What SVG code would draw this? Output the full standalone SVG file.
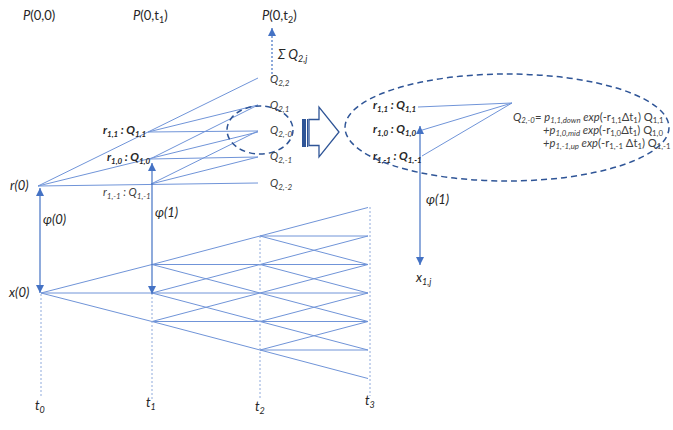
<svg xmlns="http://www.w3.org/2000/svg" width="673" height="430" viewBox="0 0 673 430">
<defs>
<style>
text{font-family:Lato,"Liberation Sans",sans-serif;fill:#262626}
.i{font-style:italic}
.b{font-weight:bold;font-style:italic;font-size:11.5px}
.q{font-size:11px;font-style:italic;fill:#404040}
.lbl{font-size:13px}
.f{font-size:11.2px;fill:#404040}
.s9{font-size:9px}
.s8{font-size:8px}
.s7{font-size:7.8px}
.tree{stroke:#7094D8;stroke-width:1;fill:none}
.dot{stroke:#8FAADC;stroke-width:1;stroke-dasharray:2 2;fill:none}
.arr{stroke:#4472C4;stroke-width:1.2;fill:none}
.ell{stroke:#2F5597;stroke-width:1.5;stroke-dasharray:6 4;fill:none}
</style>
<marker id="ah" viewBox="0 0 8 8" refX="8" refY="4" markerWidth="8" markerHeight="8" markerUnits="userSpaceOnUse" orient="auto-start-reverse">
<path d="M0,0 L8,4 L0,8 z" fill="#4472C4"/>
</marker>
</defs>
<rect width="673" height="430" fill="#ffffff"/>

<g id="connectors">
<path class="tree" d="M38,186 L258,78 M38,186 L258,132 M38,186 L258,183 M148,132 L258,105 M148,132 L258,131 M150,159 L258,105 M150,159 L258,157 M151,184 L258,131 M151,184 L258,157"/>
<path class="tree" d="M41,293 L152,264.5 M41,293 L152,293 M41,293 L152,321.5
M152,264.5 L260,236 M152,264.5 L260,264.5 M152,264.5 L260,293
M152,293 L260,264.5 M152,293 L260,293 M152,293 L260,321.5
M152,321.5 L260,293 M152,321.5 L260,321.5 M152,321.5 L260,350
M260,236 L368,207.5 M260,236 L368,236 M260,236 L368,264.5
M260,264.5 L368,236 M260,264.5 L368,264.5 M260,264.5 L368,293
M260,293 L368,264.5 M260,293 L368,293 M260,293 L368,321.5
M260,321.5 L368,293 M260,321.5 L368,321.5 M260,321.5 L368,350
M260,350 L368,321.5 M260,350 L368,350 M260,350 L368,378.5"/>
<path class="dot" d="M41,294 L41,397 M152,293 L152,400 M260,236 L260,400 M370,207 L370,396"/>
<path class="tree" d="M418,107 L512,103 M419,131 L512,103 M422,156 L512,103"/>
<path class="arr" d="M40,188 L40,293" marker-start="url(#ah)" marker-end="url(#ah)"/>
<path class="arr" d="M152,163 L152,294" marker-start="url(#ah)" marker-end="url(#ah)"/>
<path class="arr" d="M420,126 L420,265" marker-start="url(#ah)" marker-end="url(#ah)"/>
<path class="arr" d="M272,78 L272,28" stroke-dasharray="2 2" marker-end="url(#ah)"/>
</g>

<g id="ellipse-small"><ellipse class="ell" cx="260" cy="130" rx="33" ry="24"/></g>
<g id="ellipse-big"><ellipse class="ell" cx="507" cy="127.5" rx="162" ry="53.5"/></g>

<g id="block-arrow">
<rect x="302" y="119" width="4" height="28" fill="#2F5597"/>
<rect x="307" y="119" width="1.2" height="28" fill="#2F5597"/>
<path d="M309,119.5 L319,119.5 L319,107 L339,132 L319,157 L319,145.5 L309,145.5 Z" fill="#ffffff" stroke="#2F5597" stroke-width="1.3"/>
</g>

<g id="p00"><text class="lbl" x="23" y="20"><tspan class="i">P</tspan>(0,0)</text></g>
<g id="p0t1"><text class="lbl" x="133" y="20"><tspan class="i">P</tspan>(0,t<tspan class="s9" dy="3">1</tspan><tspan dy="-3">)</tspan></text></g>
<g id="p0t2"><text class="lbl" x="262" y="20"><tspan class="i">P</tspan>(0,t<tspan class="s9" dy="3">2</tspan><tspan dy="-3">)</tspan></text></g>
<g id="sumq"><text class="lbl i" x="278" y="59">Σ Q<tspan class="s9" dy="3">2,j</tspan></text></g>

<g id="q22"><text class="q" x="270" y="83">Q<tspan class="s8" dy="3">2,2</tspan></text></g>
<g id="q21"><text class="q" x="270" y="109">Q<tspan class="s8" dy="3">2,1</tspan></text></g>
<g id="q20"><text class="q" x="270" y="134">Q<tspan class="s8" dy="3">2,-0</tspan></text></g>
<g id="q2m1"><text class="q" x="270" y="160">Q<tspan class="s8" dy="3">2,-1</tspan></text></g>
<g id="q2m2"><text class="q" x="270" y="187">Q<tspan class="s8" dy="3">2,-2</tspan></text></g>

<g id="r11"><text class="b" x="103" y="134">r<tspan class="s8" dy="3">1,1</tspan><tspan dy="-3"> : Q</tspan><tspan class="s8" dy="3">1,1</tspan></text></g>
<g id="r10"><text class="b" x="107" y="161">r<tspan class="s8" dy="3">1,0</tspan><tspan dy="-3"> : Q</tspan><tspan class="s8" dy="3">1,0</tspan></text></g>
<g id="r1m1"><text class="q" x="103" y="196">r<tspan class="s8" dy="3">1,-1</tspan><tspan dy="-3"> : Q</tspan><tspan class="s8" dy="3">1,-1</tspan></text></g>
<g id="r0"><text class="lbl i" x="10" y="190">r(0)</text></g>
<g id="x0"><text class="lbl i" x="9" y="297">x(0)</text></g>
<g id="phi0"><text class="lbl i" x="43" y="224">φ(0)</text></g>
<g id="phi1"><text class="lbl i" x="155" y="217">φ(1)</text></g>

<g id="t0"><text class="lbl i" x="35" y="410">t<tspan class="s9" dy="3">0</tspan></text></g>
<g id="t1"><text class="lbl i" x="146" y="407">t<tspan class="s9" dy="3">1</tspan></text></g>
<g id="t2"><text class="lbl i" x="255" y="411">t<tspan class="s9" dy="3">2</tspan></text></g>
<g id="t3"><text class="lbl i" x="365" y="405">t<tspan class="s9" dy="3">3</tspan></text></g>

<g id="zr11"><text class="b" x="373" y="109">r<tspan class="s8" dy="3">1,1</tspan><tspan dy="-3"> : Q</tspan><tspan class="s8" dy="3">1,1</tspan></text></g>
<g id="zr10"><text class="b" x="373" y="133">r<tspan class="s8" dy="3">1,0</tspan><tspan dy="-3"> : Q</tspan><tspan class="s8" dy="3">1,0</tspan></text></g>
<g id="zr1m1"><text class="b" x="373" y="160">r<tspan class="s8" dy="3">1,-1</tspan><tspan dy="-3"> : Q</tspan><tspan class="s8" dy="3">1,-1</tspan></text></g>
<g id="zphi1"><text class="lbl i" x="426" y="204">φ(1)</text></g>
<g id="x1j"><text class="lbl i" x="416" y="282">x<tspan class="s9" dy="3">1,j</tspan></text></g>

<g id="formula">
<text class="f" x="513" y="121"><tspan class="i">Q</tspan><tspan class="s7 i" dy="2">2,-0</tspan><tspan dy="-2">= </tspan><tspan class="i">p</tspan><tspan class="s7 i" dy="2">1,1,down</tspan><tspan class="i" dy="-2"> exp</tspan><tspan>(-r</tspan><tspan class="s7" dy="2">1,1</tspan><tspan dy="-2">Δt</tspan><tspan class="s7" dy="2">1</tspan><tspan dy="-2">) Q</tspan><tspan class="s7" dy="2">1,1</tspan></text>
<text class="f" x="543" y="134"><tspan class="i">+p</tspan><tspan class="s7 i" dy="2">1,0,mid</tspan><tspan class="i" dy="-2"> exp</tspan><tspan>(-r</tspan><tspan class="s7" dy="2">1,0</tspan><tspan dy="-2">Δt</tspan><tspan class="s7" dy="2">1</tspan><tspan dy="-2">) Q</tspan><tspan class="s7" dy="2">1,0</tspan></text>
<text class="f" x="543" y="147"><tspan class="i">+p</tspan><tspan class="s7 i" dy="2">1,-1,up</tspan><tspan class="i" dy="-2"> exp</tspan><tspan>(-r</tspan><tspan class="s7" dy="2">1,-1</tspan><tspan dy="-2"> Δt</tspan><tspan class="s7" dy="2">1</tspan><tspan dy="-2">) Q</tspan><tspan class="s7" dy="2">1,-1</tspan></text>
</g>
</svg>
